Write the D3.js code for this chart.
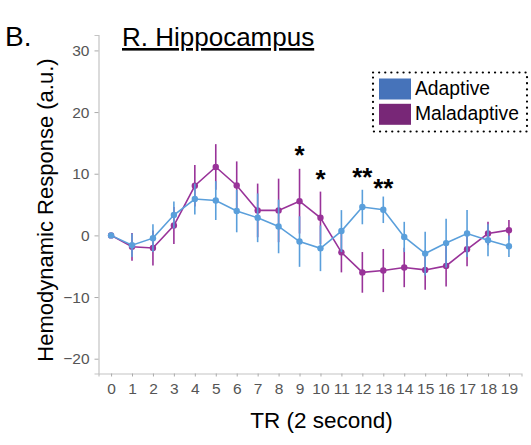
<!DOCTYPE html>
<html>
<head>
<meta charset="utf-8">
<script src="https://cdn.jsdelivr.net/npm/d3@7"></script>
<style>
  body { margin: 0; background: #fff; }
  svg { font-family: "Liberation Sans", Arial, sans-serif; }
</style>
</head>
<body>
<svg id="chart"></svg>
<script>
let w = 531;
let h = 445;

// TR index 0..19
let trs = [0,1,2,3,4,5,6,7,8,9,10,11,12,13,14,15,16,17,18,19];
let adaptiveMean = [0,-1.6,-0.45,3.3,5.9,5.65,3.95,2.85,1.45,-1.0,-2.1,0.7,4.6,4.15,-0.25,-2.95,-1.25,0.3,-0.8,-1.75];
let adaptiveErr  = [0,1.9,2.25,2.2,2.5,3.15,3.45,3.95,4.35,4.1,3.7,3.4,2.8,2.15,2.45,3.55,3.95,3.8,2.6,1.75];
let maladaptiveMean = [0,-1.85,-2.05,1.6,8.05,11.1,8.1,4.05,4.05,5.55,2.85,-2.75,-6.0,-5.7,-5.2,-5.6,-4.95,-2.25,0.3,0.85];
let maladaptiveErr  = [0,2.25,2.85,3.0,3.35,3.7,3.9,4.35,5.15,5.25,4.25,3.25,3.3,3.5,3.2,3.2,3.35,2.75,1.9,1.65];
let yTicks = [-20,-10,0,10,20,30];
// significance markers: TR index, label, height (data units)
let sigTR = [9,10,12,13];
let sigLabel = ['*','*','**','**'];
let sigY = [13.0,9.1,9.4,7.7];

let seriesNames = ['Adaptive','Maladaptive'];
let lineColors = ['#5a9fdb','#993399'];
let swatchColors = ['#4673ba','#782777'];

let svg = d3.select('#chart').attr('width', w).attr('height', h);

let xScale = d3.scaleLinear().domain([-0.6, 19.6]).range([98.5, 521.5]);
let yScale = d3.scaleLinear().domain([-22.4, 32.5]).range([373.5, 35]);

// axes
let xAxis = d3.axisBottom(xScale).tickValues(trs).tickFormat(d3.format('d')).tickSize(3).tickPadding(4);
let gx = svg.append('g').attr('transform', 'translate(0,373.5)').call(xAxis);
let yAxis = d3.axisLeft(yScale).tickValues(yTicks).tickSize(4).tickPadding(5);
let gy = svg.append('g').attr('transform', 'translate(98.5,0)').call(yAxis);
[gx, gy].forEach(g => {
  g.select('.domain').attr('stroke', '#c4c4c4').attr('stroke-width', 1.2);
  g.selectAll('.tick line').attr('stroke', '#aaa');
  g.selectAll('.tick text').attr('fill', '#555').style('font-size', '15.5px');
});
gx.selectAll('.tick text').attr('dy', '0.85em');

let series = [
  {mean: maladaptiveMean, err: maladaptiveErr, color: lineColors[1]},
  {mean: adaptiveMean, err: adaptiveErr, color: lineColors[0]}
];

let line = d3.line().x((d, i) => xScale(trs[i])).y(d => yScale(d));

series.forEach(s => {
  let g = svg.append('g');
  g.selectAll('line.err')
    .data(trs)
    .enter()
    .append('line')
    .attr('x1', d => xScale(d))
    .attr('x2', d => xScale(d))
    .attr('y1', (d, i) => yScale(s.mean[i] - s.err[i]))
    .attr('y2', (d, i) => yScale(s.mean[i] + s.err[i]))
    .attr('stroke', s.color)
    .attr('stroke-width', 1.6);
  g.append('path')
    .datum(s.mean)
    .attr('d', line)
    .attr('fill', 'none')
    .attr('stroke', s.color)
    .attr('stroke-width', 1.6);
  g.selectAll('circle')
    .data(s.mean)
    .enter()
    .append('circle')
    .attr('cx', (d, i) => xScale(trs[i]))
    .attr('cy', d => yScale(d))
    .attr('r', 3.2)
    .attr('fill', s.color);
});

// stars
svg.selectAll('text.sig')
  .data(sigTR)
  .enter()
  .append('text')
  .attr('x', d => xScale(d))
  .attr('y', (d, i) => yScale(sigY[i]))
  .attr('text-anchor', 'middle')
  .attr('dominant-baseline', 'central')
  .style('font-size', '26px')
  .style('font-weight', 'bold')
  .text((d, i) => sigLabel[i]);

// title and panel label
svg.append('text').attr('x', 5).attr('y', 46).style('font-size', '28px').text('B.');
svg.append('text').attr('x', 122).attr('y', 46).style('font-size', '26px')
  .attr('text-decoration', 'underline').text('R. Hippocampus');

// axis titles
svg.append('text').attr('x', 321.5).attr('y', 428).attr('text-anchor', 'middle')
  .style('font-size', '22.5px').text('TR (2 second)');
svg.append('text').attr('transform', 'translate(53,210) rotate(-90)').attr('text-anchor', 'middle')
  .style('font-size', '22px').text('Hemodynamic Response (a.u.)');

// legend
let lg = svg.append('g');
lg.append('rect').attr('x', 373).attr('y', 72.5).attr('width', 154).attr('height', 59)
  .attr('fill', 'none').attr('stroke', '#000').attr('stroke-width', 2.2)
  .attr('stroke-dasharray', '0.1 6').attr('stroke-linecap', 'round');
seriesNames.forEach((name, i) => {
  lg.append('rect').attr('x', 379).attr('y', 78.5 + i * 25.3).attr('width', 32).attr('height', 21)
    .attr('fill', swatchColors[i]);
  lg.append('text').attr('x', 415).attr('y', 95 + i * 24.5).style('font-size', '19.3px').text(name);
});
</script>
</body>
</html>
